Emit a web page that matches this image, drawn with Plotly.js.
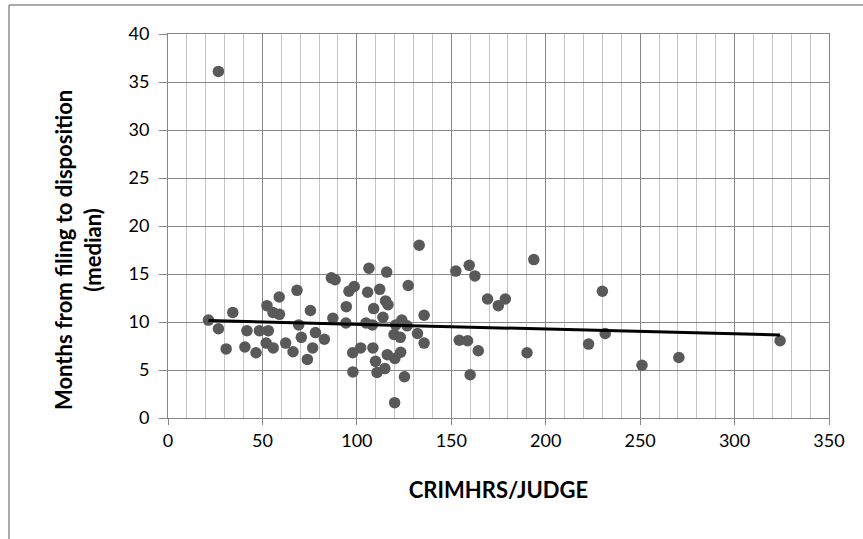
<!DOCTYPE html>
<html>
<head>
<meta charset="utf-8">
<script src="https://cdn.plot.ly/plotly-3.0.1.min.js"></script>
<style>html,body{margin:0;padding:0;background:#fff;}#chart{width:863px;height:539px;}</style>
</head>
<body>
<div id="chart"></div>
<script>
// CRIMHRS/JUDGE values (x)
const crimHrsPerJudge = [
  21.4, 26.7, 26.7, 30.8, 34.3, 41.8, 40.7, 46.6, 48.4, 53.1,
  52.0, 55.7, 52.4, 55.6, 59.0, 58.9, 68.3, 62.3, 66.2, 69.2,
  70.6, 73.8, 75.4, 78.1, 82.8, 76.6, 86.5, 88.5, 106.4, 115.8,
  95.8, 98.6, 105.7, 112.1, 127.2, 94.4, 108.9, 115.2, 116.5, 87.3,
  94.2, 104.8, 108.2, 113.8, 120.6, 123.8, 126.6, 135.6, 119.7, 123.0,
  132.1, 135.6, 97.8, 102.0, 108.5, 109.9, 110.7, 114.8, 116.1, 120.1,
  123.2, 125.2, 97.9, 120.0, 133.0, 152.4, 159.5, 162.5, 193.7, 169.2,
  174.9, 178.6, 230.0, 154.2, 158.6, 164.3, 160.0, 190.1, 222.7, 231.5,
  251.0, 270.5, 324.1
];
// Months from filing to disposition (median) (y)
const monthsMedian = [
  10.2, 36.1, 9.3, 7.2, 11.0, 9.1, 7.4, 6.8, 9.1, 9.1,
  7.8, 7.3, 11.7, 11.0, 10.8, 12.6, 13.3, 7.8, 6.9, 9.7,
  8.4, 6.1, 11.2, 8.9, 8.2, 7.3, 14.6, 14.4, 15.6, 15.2,
  13.2, 13.7, 13.1, 13.4, 13.8, 11.6, 11.4, 12.2, 11.8, 10.4,
  9.9, 9.9, 9.7, 10.5, 9.7, 10.2, 9.6, 10.7, 8.7, 8.4,
  8.8, 7.8, 6.8, 7.3, 7.3, 5.9, 4.75, 5.15, 6.6, 6.2,
  6.85, 4.3, 4.8, 1.6, 18.0, 15.3, 15.9, 14.8, 16.5, 12.4,
  11.7, 12.4, 13.2, 8.1, 8.05, 7.0, 4.5, 6.8, 7.7, 8.8,
  5.5, 6.3, 8.05
];
// Linear trendline endpoints
const trendX = [21.4, 324.1];
const trendY = [10.15, 8.65];

const xTicks = [0, 50, 100, 150, 200, 250, 300, 350];
const yTicks = [0, 5, 10, 15, 20, 25, 30, 35, 40];

const xTitle = 'CRIMHRS/JUDGE';
const yTitle = 'Months from filing to disposition<br>(median)';

const gridDark = '#878787';
const gridLight = '#c4c4c4';
const font = 'Lato, "Open Sans", sans-serif';

const data = [
  {
    x: crimHrsPerJudge, y: monthsMedian, type: 'scatter', mode: 'markers',
    marker: {color: '#595959', size: 11.5},
    hoverinfo: 'x+y'
  },
  {
    x: trendX, y: trendY, type: 'scatter', mode: 'lines',
    line: {color: '#000000', width: 3},
    hoverinfo: 'skip'
  }
];

const layout = {
  width: 863, height: 539,
  margin: {l: 168, r: 34, t: 34, b: 121},
  paper_bgcolor: '#ffffff', plot_bgcolor: '#ffffff',
  showlegend: false,
  font: {family: font, size: 18, color: '#000000'},
  xaxis: {
    range: [0, 350], tickvals: xTicks, ticktext: xTicks.map(String),
    showgrid: true, gridcolor: gridDark, gridwidth: 1,
    minor: {dtick: 10, tick0: 0, showgrid: true, gridcolor: gridLight, gridwidth: 1},
    showline: true, linecolor: gridDark, linewidth: 1, mirror: true,
    ticks: 'outside', ticklen: 6, tickcolor: gridDark,
    zeroline: false,
    tickfont: {family: font, size: 18, color: '#000000'},
    title: {text: '<b>' + xTitle + '</b>', font: {family: font, size: 22, color: '#000000'}, standoff: 33}
  },
  yaxis: {
    range: [0, 40], tickvals: yTicks, ticktext: yTicks.map(String),
    showgrid: true, gridcolor: gridDark, gridwidth: 1,
    showline: true, linecolor: gridDark, linewidth: 1, mirror: true,
    ticks: 'outside', ticklen: 8, tickcolor: gridDark,
    ticklabelstandoff: 6,
    zeroline: false,
    tickfont: {family: font, size: 18, color: '#000000'}
  },
  annotations: [
    {text: '<b>' + yTitle + '</b>', xref: 'paper', yref: 'paper',
     x: (78 - 168) / 661, y: (418 - 250) / 384, xanchor: 'center', yanchor: 'middle',
     textangle: -90, showarrow: false,
     font: {family: font, size: 22, color: '#000000'}}
  ],
  shapes: [
    {type: 'line', xref: 'paper', yref: 'paper', x0: -159/661, x1: 900/661, y0: (539-5-121)/384, y1: (539-5-121)/384,
     line: {color: '#8c8c8c', width: 1.5}},
    {type: 'line', xref: 'paper', yref: 'paper', x0: -159/661, x1: -159/661, y0: (539-5-121)/384, y1: -130/384,
     line: {color: '#8c8c8c', width: 1.5}}
  ]
};

Plotly.newPlot('chart', data, layout, {displayModeBar: false, staticPlot: true});
</script>
</body>
</html>
